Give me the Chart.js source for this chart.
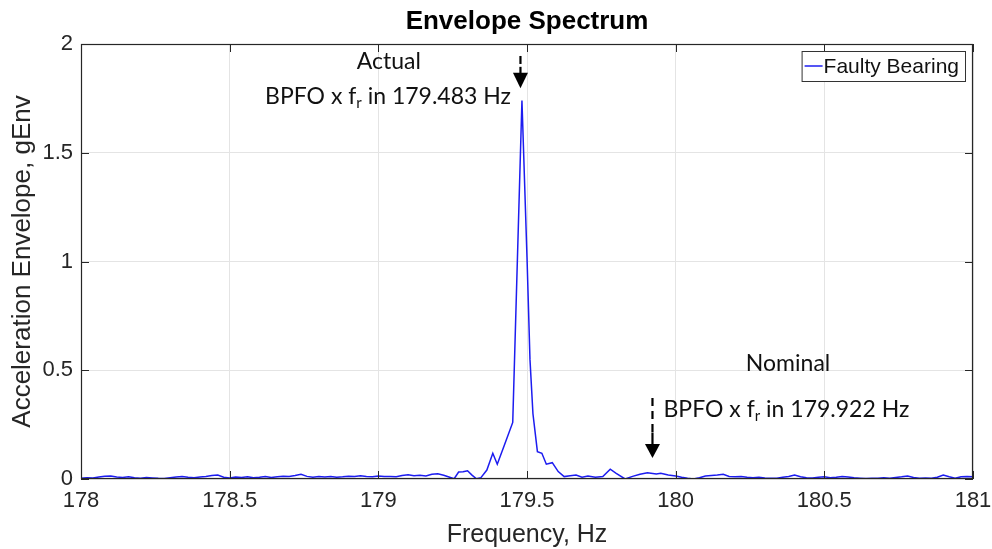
<!DOCTYPE html>
<html>
<head>
<meta charset="utf-8">
<title>Envelope Spectrum</title>
<script src="https://cdn.jsdelivr.net/npm/chart.js@4.4.1/dist/chart.umd.min.js"></script>
<style>
  html, body { margin: 0; padding: 0; background: #fff; }
  #wrap { width: 992px; height: 549px; position: relative; }
</style>
</head>
<body>
<div id="wrap"><canvas id="envChart"></canvas></div>
<script>
// ================== DATA ==================
const seriesName = "Faulty Bearing";

const freqHz = [
  178.00, 178.02, 178.04, 178.06, 178.08, 178.10, 178.12, 178.14, 178.16, 178.18,
  178.20, 178.22, 178.24, 178.26, 178.28, 178.30, 178.32, 178.34, 178.36, 178.38,
  178.40, 178.42, 178.44, 178.46, 178.48, 178.50, 178.52, 178.54, 178.56, 178.58,
  178.60, 178.62, 178.64, 178.66, 178.68, 178.70, 178.72, 178.74, 178.76, 178.78,
  178.80, 178.82, 178.84, 178.86, 178.88, 178.90, 178.92, 178.94, 178.96, 178.98,
  179.00, 179.02, 179.04, 179.06, 179.08, 179.10, 179.12, 179.14, 179.16, 179.18,
  179.20, 179.22, 179.24,
  179.255, 179.27, 179.285, 179.30, 179.315, 179.33, 179.345, 179.365, 179.385, 179.40,
  179.425, 179.452, 179.483, 179.50, 179.51, 179.52, 179.535, 179.55, 179.565, 179.585,
  179.605, 179.625, 179.645, 179.665, 179.685, 179.705, 179.73, 179.755, 179.78, 179.80,
  179.83, 179.855, 179.88, 179.905, 179.935, 179.95, 179.975,
  180.00, 180.02, 180.04, 180.06, 180.08, 180.10, 180.12, 180.14, 180.16, 180.18,
  180.20, 180.22, 180.24, 180.26, 180.28, 180.30, 180.32, 180.34, 180.36, 180.38,
  180.40, 180.42, 180.44, 180.46, 180.48, 180.50, 180.52, 180.54, 180.56, 180.58,
  180.60, 180.62, 180.64, 180.66, 180.68, 180.70, 180.72, 180.74, 180.76, 180.78,
  180.80, 180.82, 180.84, 180.86, 180.88, 180.90, 180.92, 180.94, 180.96, 180.98,
  181.00,
];

const envelopeG = [
  0.004, 0.006, 0.005, 0.009, 0.013, 0.014, 0.009, 0.007, 0.010, 0.006,
  0.004, 0.007, 0.005, 0.003, 0.002, 0.006, 0.009, 0.011, 0.008, 0.006,
  0.009, 0.012, 0.016, 0.018, 0.008, 0.005, 0.009, 0.007, 0.010, 0.006,
  0.008, 0.011, 0.007, 0.010, 0.013, 0.012, 0.016, 0.022, 0.012, 0.008,
  0.011, 0.009, 0.012, 0.008, 0.010, 0.013, 0.011, 0.015, 0.012, 0.010,
  0.014, 0.011, 0.012, 0.010, 0.016, 0.019, 0.015, 0.017, 0.014, 0.022,
  0.024, 0.017, 0.008,
  0.001, 0.032, 0.033, 0.038, 0.018, 0.001, 0.006, 0.041, 0.118, 0.068,
  0.160, 0.260, 1.740, 1.020, 0.550, 0.300, 0.126, 0.118, 0.068, 0.075,
  0.034, 0.011, 0.015, 0.018, 0.008, 0.014, 0.008, 0.011, 0.045, 0.026,
  0.000, 0.012, 0.022, 0.029, 0.023, 0.026, 0.018,
  0.014, 0.008, 0.003, 0.000, 0.006, 0.014, 0.016, 0.018, 0.022, 0.012,
  0.010, 0.012, 0.008, 0.006, 0.008, 0.005, 0.003, 0.004, 0.008, 0.012,
  0.018, 0.010, 0.006, 0.005, 0.008, 0.010, 0.006, 0.008, 0.012, 0.009,
  0.006, 0.004, 0.002, 0.004, 0.003, 0.006, 0.004, 0.007, 0.010, 0.014,
  0.007, 0.004, 0.005, 0.003, 0.008, 0.018, 0.010, 0.004, 0.010, 0.012,
  0.010,
];

const xTicks = [178, 178.5, 179, 179.5, 180, 180.5, 181];
const yTicks = [0, 0.5, 1, 1.5, 2];

// text notes (anchored in data units)
const notes = [
  { pre: "Actual", x: 179.035, y: 1.917, align: "center" },
  { pre: "BPFO x f", sub: "r", post: " in 179.483 Hz", x: 178.619, y: 1.756, align: "left" },
  { pre: "Nominal", x: 180.378, y: 0.529, align: "center" },
  { pre: "BPFO x f", sub: "r", post: " in 179.922 Hz", x: 179.959, y: 0.317, align: "left" },
];

// arrows: dashed part from top to dashEnd, solid shaft down to headTop, head to tip
const arrows = [
  { x: 179.478, top: 1.945, dashEnd: 1.895, headTop: 1.868, tip: 1.797 },
  { x: 179.922, top: 0.372, dashEnd: 0.214, headTop: 0.161, tip: 0.097 },
];

// ================== OVERLAY (box, ticks, notes, legend) ==================
const axisColor = "#262626";
const noteFont = "Lato";

function drawLine(ctx, x1, y1, x2, y2) {
  ctx.beginPath();
  ctx.moveTo(x1, y1);
  ctx.lineTo(x2, y2);
  ctx.stroke();
}

const overlayPlugin = {
  id: "overlay",
  afterDatasetsDraw(chart) {
    const { ctx, chartArea: a, scales } = chart;
    const x = scales.x;
    const y = scales.y;
    ctx.save();

    // axes box
    ctx.strokeStyle = axisColor;
    ctx.lineWidth = 1.2;
    ctx.strokeRect(a.left + 0.5, a.top + 0.5, a.right - a.left - 1, a.bottom - a.top - 1);

    // inward ticks on all sides
    ctx.lineWidth = 1;
    xTicks.forEach((v) => {
      const px = Math.round(x.getPixelForValue(v)) + 0.5;
      drawLine(ctx, px, a.bottom, px, a.bottom - 8);
      drawLine(ctx, px, a.top, px, a.top + 8);
    });
    yTicks.forEach((v) => {
      const py = Math.round(y.getPixelForValue(v)) + 0.5;
      drawLine(ctx, a.left, py, a.left + 8, py);
      drawLine(ctx, a.right, py, a.right - 8, py);
    });

    // notes
    ctx.fillStyle = "#111";
    ctx.textBaseline = "middle";
    notes.forEach((n) => {
      const px = x.getPixelForValue(n.x);
      const py = y.getPixelForValue(n.y);
      const big = "23px " + noteFont;
      const small = "15px " + noteFont;
      ctx.font = big;
      const w1 = ctx.measureText(n.pre).width;
      const w3 = n.post ? ctx.measureText(n.post).width : 0;
      ctx.font = small;
      const w2 = n.sub ? ctx.measureText(n.sub).width : 0;
      const total = w1 + w2 + w3;
      let cx = n.align === "center" ? px - total / 2 : px;
      ctx.textAlign = "left";
      ctx.font = big;
      ctx.fillText(n.pre, cx, py);
      cx += w1;
      if (n.sub) {
        ctx.font = small;
        ctx.fillText(n.sub, cx, py + 6);
        cx += w2;
        ctx.font = big;
        ctx.fillText(n.post, cx, py);
      }
    });

    // arrows
    ctx.strokeStyle = "#000";
    ctx.fillStyle = "#000";
    ctx.lineWidth = 2.2;
    arrows.forEach((ar) => {
      const px = x.getPixelForValue(ar.x);
      const yTop = y.getPixelForValue(ar.top);
      const yDash = y.getPixelForValue(ar.dashEnd);
      const yHead = y.getPixelForValue(ar.headTop);
      const yTip = y.getPixelForValue(ar.tip);
      ctx.setLineDash([8, 5]);
      drawLine(ctx, px, yTop, px, yDash);
      ctx.setLineDash([]);
      if (yHead > yDash + 1) drawLine(ctx, px, yDash, px, yHead + 1);
      ctx.beginPath();
      ctx.moveTo(px - 7.5, yHead);
      ctx.lineTo(px + 7.5, yHead);
      ctx.lineTo(px, yTip);
      ctx.closePath();
      ctx.fill();
    });

    // legend box, top right inside the axes
    const ds = chart.data.datasets[0];
    ctx.font = "21px 'Liberation Sans', Arial, sans-serif";
    const tw = ctx.measureText(ds.label).width;
    const bw = tw + 28;
    const bh = 30;
    const bx = a.right - 8 - bw;
    const by = a.top + 7;
    ctx.fillStyle = "#fff";
    ctx.fillRect(bx, by, bw, bh);
    ctx.strokeStyle = "#333";
    ctx.lineWidth = 1;
    ctx.strokeRect(bx + 0.5, by + 0.5, bw, bh);
    ctx.strokeStyle = ds.borderColor;
    ctx.lineWidth = 1.5;
    drawLine(ctx, bx + 3, by + bh / 2, bx + 21, by + bh / 2);
    ctx.fillStyle = "#111";
    ctx.textAlign = "left";
    ctx.textBaseline = "middle";
    ctx.fillText(ds.label, bx + 22, by + bh / 2 + 1);

    ctx.restore();
  },
};

// ================== CHART ==================
const points = freqHz.map((f, i) => ({ x: f, y: envelopeG[i] }));

const ctx = document.getElementById("envChart").getContext("2d");
const envChart = new Chart(ctx, {
  type: "line",
  data: {
    datasets: [
      {
        label: seriesName,
        data: points,
        borderColor: "#1c1cf0",
        borderWidth: 1.5,
        pointRadius: 0,
        tension: 0,
        fill: false,
      },
    ],
  },
  options: {
    responsive: true,
    maintainAspectRatio: false,
    animation: false,
    layout: { padding: { right: 19, left: 0, top: 0, bottom: 0 } },
    scales: {
      x: {
        type: "linear",
        min: 178,
        max: 181,
        afterBuildTicks: (s) => { s.ticks = xTicks.map((v) => ({ value: v })); },
        afterFit: (s) => {
          s.height = 70;
          s.paddingLeft = 0;
          s.paddingRight = 0;
        },
        ticks: {
          padding: 9,
          color: axisColor,
          font: { family: "'Liberation Sans', Arial, sans-serif", size: 22 },
          callback: (v) => String(v),
          maxRotation: 0,
        },
        grid: { color: "#e4e4e4", drawTicks: false },
        border: { display: false },
        title: {
          display: true,
          text: "Frequency, Hz",
          color: axisColor,
          font: { family: "'Liberation Sans', Arial, sans-serif", size: 25, lineHeight: 1 },
          padding: { top: 0, bottom: 1.5 },
        },
      },
      y: {
        min: 0,
        max: 2,
        afterBuildTicks: (s) => { s.ticks = yTicks.map((v) => ({ value: v })); },
        afterFit: (s) => {
          s.width = 81;
          s.paddingTop = 0;
          s.paddingBottom = 0;
        },
        ticks: {
          padding: 8,
          color: axisColor,
          font: { family: "'Liberation Sans', Arial, sans-serif", size: 22 },
          callback: (v) => String(v),
        },
        grid: { color: "#e4e4e4", drawTicks: false },
        border: { display: false },
        title: {
          display: true,
          text: "Acceleration Envelope, gEnv",
          color: axisColor,
          font: { family: "'Liberation Sans', Arial, sans-serif", size: 26, lineHeight: 1 },
          padding: { top: 10, bottom: 0 },
        },
      },
    },
    plugins: {
      legend: { display: false },
      tooltip: { enabled: false },
      title: {
        display: true,
        fullSize: false,
        text: "Envelope Spectrum",
        color: "#000",
        font: { family: "'Liberation Sans', Arial, sans-serif", size: 26, weight: "bold", lineHeight: 1.2 },
        padding: { top: 6.4, bottom: 6.4 },
      },
    },
  },
  plugins: [overlayPlugin],
});
</script>
</body>
</html>
